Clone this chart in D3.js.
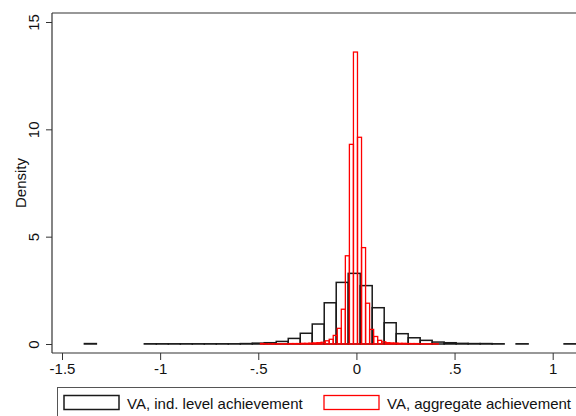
<!DOCTYPE html>
<html>
<head>
<meta charset="utf-8">
<script src="https://cdn.jsdelivr.net/npm/d3@7"></script>
<style>
  html, body { margin: 0; padding: 0; background: #fff; }
  svg { display: block; font-family: "Liberation Sans", Arial, Helvetica, sans-serif; }
</style>
</head>
<body>
<svg id="chart" width="576" height="416"></svg>
<script>
// ---- data ----
const xTicks = [-1.5, -1, -0.5, 0, 0.5, 1];
const xTickLabels = ["-1.5", "-1", "-.5", "0", ".5", "1"];
const yTicks = [0, 5, 10, 15];
const yTickLabels = ["0", "5", "10", "15"];
const yTitle = "Density";
const seriesNames = ["VA, ind. level achievement", "VA, aggregate achievement"];

// individual-level VA histogram: bin start and width, densities per bin
const indStart = -1.386;
const indWidth = 0.0611;
const indDensity = [
  0.02, 0, 0, 0, 0, 0.01, 0.01, 0.01, 0.01, 0.01,
  0.01, 0.01, 0.01, 0.02, 0.04, 0.06, 0.12, 0.26, 0.50, 0.93,
  1.92, 2.87, 3.29, 2.72, 1.69, 0.99, 0.48, 0.29, 0.17, 0.09,
  0.06, 0.03, 0.02, 0.02, 0.01, 0, 0.01, 0, 0, 0,
  0.01
];

// aggregate VA histogram
const aggStart = -0.489;
const aggWidth = 0.0206;
const aggDensity = [
  0.02, 0.01, 0.01, 0.01, 0.01, 0.01, 0.01, 0.02, 0.02, 0.02,
  0.03, 0.03, 0.04, 0.05, 0.06, 0.08, 0.15, 0.22, 0.40, 0.73,
  1.62, 4.11, 9.30, 13.6, 9.63, 4.49, 1.90, 0.68, 0.35, 0.17,
  0.10, 0.06, 0.05, 0.04, 0.03, 0.03, 0.02, 0.02, 0.02, 0.01,
  0.01, 0.01, 0.01, 0.01
];

// ---- layout ----
const svg = d3.select("#chart");
const plotLeft = 52, plotTop = 13, plotBottom = 353, plotRight = 580;

const x = d3.scaleLinear().domain([-1.5, 1]).range([62, 552.7]);
const y = d3.scaleLinear().domain([0, 15]).range([344, 22]);

const axisColor = "#333";
const redColor = "#ff0000";

function bins(start, width, dens) {
  return dens.map((d, i) => ({ x0: start + i * width, x1: start + (i + 1) * width, d }))
             .filter(b => b.d > 0);
}

// plot region top line
svg.append("line")
  .attr("x1", plotLeft).attr("x2", plotRight)
  .attr("y1", plotTop).attr("y2", plotTop)
  .attr("stroke", axisColor).attr("stroke-width", 1.2);

// histograms
const gBars = svg.append("g");
gBars.selectAll("rect.ind").data(bins(indStart, indWidth, indDensity)).join("rect")
  .attr("class", "ind")
  .attr("x", b => x(b.x0)).attr("width", b => x(b.x1) - x(b.x0))
  .attr("y", b => y(b.d)).attr("height", b => y(0) - y(b.d))
  .attr("fill", "none").attr("stroke", "#1a1a1a").attr("stroke-width", 1.5);

gBars.selectAll("rect.agg").data(bins(aggStart, aggWidth, aggDensity)).join("rect")
  .attr("class", "agg")
  .attr("x", b => x(b.x0)).attr("width", b => x(b.x1) - x(b.x0))
  .attr("y", b => y(b.d)).attr("height", b => y(0) - y(b.d))
  .attr("fill", "none").attr("stroke", redColor).attr("stroke-width", 1.3);

// x axis
const xAxis = d3.axisBottom(x).tickValues(xTicks)
  .tickFormat((d, i) => xTickLabels[i]).tickSize(7).tickPadding(3);
const gx = svg.append("g").attr("transform", `translate(0,${plotBottom})`).call(xAxis);
gx.select(".domain").remove();
gx.append("line").attr("x1", plotLeft).attr("x2", plotRight).attr("y1", 0).attr("y2", 0)
  .attr("stroke", axisColor).attr("stroke-width", 1.2);
gx.selectAll(".tick line").attr("stroke", axisColor).attr("stroke-width", 1);
gx.selectAll(".tick text").attr("font-size", 15).attr("fill", "#111")
  .attr("font-family", "Liberation Sans, Arial, sans-serif");

// y axis
const yAxis = d3.axisLeft(y).tickValues(yTicks)
  .tickFormat((d, i) => yTickLabels[i]).tickSize(6);
const gy = svg.append("g").attr("transform", `translate(${plotLeft},0)`).call(yAxis);
gy.select(".domain").remove();
gy.append("line").attr("x1", 0).attr("x2", 0).attr("y1", plotTop).attr("y2", plotBottom)
  .attr("stroke", axisColor).attr("stroke-width", 1.2);
gy.selectAll(".tick line").attr("stroke", axisColor).attr("stroke-width", 1);
gy.selectAll(".tick text")
  .attr("x", null).attr("dy", null)
  .attr("text-anchor", "middle")
  .attr("font-size", 15).attr("fill", "#111")
  .attr("font-family", "Liberation Sans, Arial, sans-serif")
  .attr("transform", "translate(-13.5,0) rotate(-90)");

// y title
svg.append("text")
  .attr("transform", `translate(25.5,${(plotTop + plotBottom) / 2}) rotate(-90)`)
  .attr("text-anchor", "middle").attr("font-size", 15).attr("fill", "#111")
  .text(yTitle);

// legend
const leg = svg.append("g");
leg.append("rect").attr("x", 57.5).attr("y", 387.5).attr("width", 600).attr("height", 60)
  .attr("fill", "#fff").attr("stroke", "#555").attr("stroke-width", 1);
const legColors = ["#1a1a1a", redColor];
const keyX = [64, 324], textX = [127, 387];
seriesNames.forEach((name, i) => {
  leg.append("rect").attr("x", keyX[i]).attr("y", 395.5).attr("width", 55).attr("height", 14)
    .attr("fill", "#fff").attr("stroke", legColors[i]).attr("stroke-width", i === 0 ? 1.5 : 1.3);
  leg.append("text").attr("x", textX[i]).attr("y", 409)
    .attr("font-size", 15).attr("fill", "#111").text(name);
});
</script>
</body>
</html>
